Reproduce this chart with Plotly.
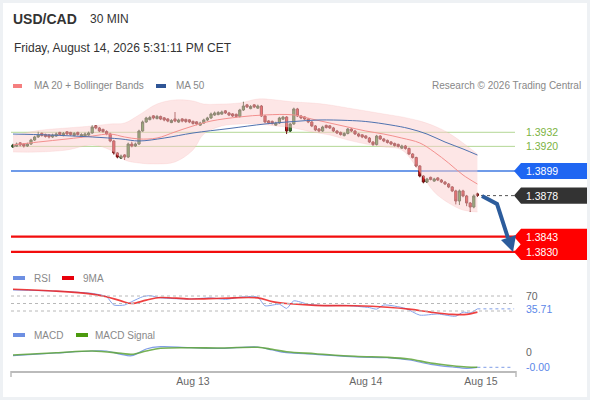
import plotly.graph_objects as go

# 30 min candles, index 0 = first candle on screen
candle_idx = list(range(130))
opens = [
    1.39194, 1.39202, 1.39230, 1.39221, 1.39203, 1.39220, 1.39254, 1.39280, 1.39311, 1.39302,
    1.39298, 1.39280, 1.39288, 1.39319, 1.39292, 1.39324, 1.39319, 1.39292, 1.39319, 1.39283,
    1.39288, 1.39296, 1.39314, 1.39375, 1.39357, 1.39345, 1.39327, 1.39306, 1.39246, 1.39144,
    1.39100, 1.39127, 1.39109, 1.39220, 1.39203, 1.39220, 1.39331, 1.39408, 1.39428, 1.39460,
    1.39437, 1.39455, 1.39443, 1.39434, 1.39403, 1.39434, 1.39407, 1.39434, 1.39430, 1.39426,
    1.39413, 1.39409, 1.39381, 1.39399, 1.39425, 1.39442, 1.39467, 1.39471, 1.39475, 1.39503,
    1.39485, 1.39477, 1.39473, 1.39455, 1.39510, 1.39554, 1.39522, 1.39554, 1.39526, 1.39544,
    1.39459, 1.39417, 1.39413, 1.39381, 1.39399, 1.39432, 1.39450, 1.39331, 1.39391, 1.39519,
    1.39459, 1.39451, 1.39433, 1.39408, 1.39374, 1.39349, 1.39331, 1.39379, 1.39375, 1.39357,
    1.39331, 1.39319, 1.39292, 1.39310, 1.39348, 1.39331, 1.39306, 1.39298, 1.39289, 1.39271,
    1.39237, 1.39216, 1.39288, 1.39263, 1.39251, 1.39238, 1.39225, 1.39217, 1.39185, 1.39203,
    1.39182, 1.39135, 1.39105, 1.39033, 1.38947, 1.38896, 1.38936, 1.38904, 1.38931, 1.38913,
    1.38896, 1.38879, 1.38854, 1.38820, 1.38734, 1.38820, 1.38777, 1.38717, 1.38683, 1.38795,
]
highs = [
    1.39222, 1.39232, 1.39236, 1.39228, 1.39231, 1.39265, 1.39290, 1.39325, 1.39318, 1.39308,
    1.39304, 1.39308, 1.39318, 1.39324, 1.39322, 1.39330, 1.39324, 1.39321, 1.39325, 1.39312,
    1.39318, 1.39326, 1.39378, 1.39382, 1.39366, 1.39350, 1.39337, 1.39316, 1.39255, 1.39152,
    1.39130, 1.39134, 1.39232, 1.39240, 1.39232, 1.39342, 1.39420, 1.39452, 1.39460, 1.39466,
    1.39468, 1.39462, 1.39450, 1.39440, 1.39432, 1.39493, 1.39436, 1.39440, 1.39436, 1.39432,
    1.39420, 1.39414, 1.39410, 1.39436, 1.39452, 1.39488, 1.39497, 1.39500, 1.39505, 1.39510,
    1.39494, 1.39484, 1.39480, 1.39520, 1.39580, 1.39562, 1.39552, 1.39560, 1.39556, 1.39553,
    1.39467, 1.39424, 1.39420, 1.39410, 1.39452, 1.39460, 1.39458, 1.39400, 1.39530, 1.39528,
    1.39468, 1.39458, 1.39442, 1.39416, 1.39382, 1.39356, 1.39376, 1.39385, 1.39382, 1.39366,
    1.39340, 1.39326, 1.39320, 1.39358, 1.39356, 1.39340, 1.39315, 1.39304, 1.39295, 1.39280,
    1.39246, 1.39298, 1.39296, 1.39272, 1.39258, 1.39245, 1.39232, 1.39223, 1.39214, 1.39212,
    1.39190, 1.39142, 1.39112, 1.39040, 1.38955, 1.38932, 1.38942, 1.38932, 1.38938, 1.38922,
    1.38905, 1.38888, 1.38862, 1.38830, 1.38832, 1.38830, 1.38786, 1.38726, 1.38790, 1.38805,
]
lows = [
    1.39186, 1.39195, 1.39200, 1.39190, 1.39195, 1.39212, 1.39246, 1.39272, 1.39284, 1.39275,
    1.39268, 1.39272, 1.39282, 1.39292, 1.39286, 1.39297, 1.39290, 1.39286, 1.39292, 1.39277,
    1.39282, 1.39290, 1.39308, 1.39346, 1.39322, 1.39316, 1.39295, 1.39235, 1.39130, 1.39098,
    1.39092, 1.39084, 1.39100, 1.39192, 1.39195, 1.39212, 1.39325, 1.39400, 1.39422, 1.39430,
    1.39430, 1.39424, 1.39414, 1.39406, 1.39398, 1.39406, 1.39400, 1.39405, 1.39400, 1.39398,
    1.39385, 1.39380, 1.39375, 1.39392, 1.39416, 1.39434, 1.39460, 1.39465, 1.39470, 1.39476,
    1.39458, 1.39450, 1.39446, 1.39446, 1.39502, 1.39527, 1.39516, 1.39526, 1.39520, 1.39450,
    1.39398, 1.39390, 1.39386, 1.39375, 1.39392, 1.39426, 1.39305, 1.39322, 1.39384, 1.39450,
    1.39432, 1.39424, 1.39398, 1.39364, 1.39330, 1.39320, 1.39324, 1.39352, 1.39348, 1.39322,
    1.39305, 1.39292, 1.39285, 1.39302, 1.39322, 1.39297, 1.39278, 1.39270, 1.39262, 1.39228,
    1.39206, 1.39208, 1.39254, 1.39236, 1.39224, 1.39211, 1.39198, 1.39190, 1.39178, 1.39172,
    1.39126, 1.39096, 1.39022, 1.38936, 1.38885, 1.38888, 1.38910, 1.38898, 1.38904, 1.38887,
    1.38870, 1.38844, 1.38810, 1.38705, 1.38700, 1.38766, 1.38690, 1.38640, 1.38672, 1.38768,
]
closes = [
    1.39212, 1.39220, 1.39212, 1.39203, 1.39220, 1.39254, 1.39280, 1.39297, 1.39293, 1.39284,
    1.39280, 1.39297, 1.39306, 1.39301, 1.39310, 1.39306, 1.39301, 1.39310, 1.39301, 1.39301,
    1.39306, 1.39314, 1.39365, 1.39357, 1.39331, 1.39327, 1.39306, 1.39246, 1.39144, 1.39109,
    1.39118, 1.39109, 1.39220, 1.39203, 1.39220, 1.39331, 1.39408, 1.39442, 1.39446, 1.39442,
    1.39455, 1.39433, 1.39425, 1.39416, 1.39421, 1.39416, 1.39425, 1.39416, 1.39412, 1.39408,
    1.39395, 1.39391, 1.39399, 1.39425, 1.39442, 1.39476, 1.39485, 1.39489, 1.39493, 1.39485,
    1.39467, 1.39459, 1.39455, 1.39510, 1.39544, 1.39536, 1.39540, 1.39536, 1.39544, 1.39459,
    1.39408, 1.39399, 1.39395, 1.39399, 1.39442, 1.39450, 1.39331, 1.39391, 1.39519, 1.39459,
    1.39442, 1.39433, 1.39408, 1.39374, 1.39340, 1.39331, 1.39365, 1.39361, 1.39357, 1.39331,
    1.39314, 1.39301, 1.39310, 1.39348, 1.39331, 1.39306, 1.39288, 1.39280, 1.39271, 1.39237,
    1.39216, 1.39288, 1.39263, 1.39246, 1.39233, 1.39220, 1.39207, 1.39199, 1.39203, 1.39182,
    1.39135, 1.39105, 1.39033, 1.38947, 1.38896, 1.38922, 1.38918, 1.38922, 1.38913, 1.38896,
    1.38879, 1.38854, 1.38820, 1.38734, 1.38820, 1.38777, 1.38717, 1.38683, 1.38777, 1.38781,
]

# Bollinger bands + moving averages (read at a few candles)
band_idx = [0, 7, 15, 22, 27, 31, 35, 40, 45, 50, 53, 58, 63, 68, 73, 78, 83, 88, 93, 98,
            103, 108, 113, 117, 121, 125, 129]
band_upper = [1.39290, 1.39335, 1.39357, 1.39374, 1.39391, 1.39399, 1.39468, 1.39561, 1.39596,
              1.39587, 1.39561, 1.39561, 1.39570, 1.39604, 1.39596, 1.39578, 1.39570, 1.39553,
              1.39527, 1.39502, 1.39476, 1.39451, 1.39416, 1.39374, 1.39314, 1.39229, 1.39135]
band_lower = [1.39152, 1.39152, 1.39169, 1.39212, 1.39169, 1.39084, 1.39058, 1.39050, 1.39067,
              1.39169, 1.39305, 1.39374, 1.39391, 1.39391, 1.39374, 1.39357, 1.39323, 1.39297,
              1.39254, 1.39220, 1.39195, 1.39169, 1.38981, 1.38811, 1.38717, 1.38657, 1.38640]
ma20_idx = [0, 7, 15, 22, 27, 31, 35, 40, 45, 50, 55, 63, 70, 78, 83, 88, 93, 98, 103, 108,
            113, 117, 121, 125, 129]
ma20 = [1.39212, 1.39237, 1.39263, 1.39288, 1.39305, 1.39280, 1.39263, 1.39271, 1.39323,
        1.39374, 1.39416, 1.39451, 1.39468, 1.39468, 1.39433, 1.39399, 1.39365, 1.39331,
        1.39305, 1.39271, 1.39229, 1.39152, 1.39058, 1.38956, 1.38879]
ma50_idx = [0, 10, 22, 30, 35, 42, 50, 60, 70, 78, 85, 93, 98, 105, 110, 115, 120, 125, 129]
ma50 = [1.39305, 1.39297, 1.39280, 1.39263, 1.39246, 1.39271, 1.39314, 1.39352, 1.39391,
        1.39412, 1.39425, 1.39421, 1.39412, 1.39382, 1.39352, 1.39305, 1.39237, 1.39178, 1.39126]

# levels
resist_levels = [1.3932, 1.3920]
pivot_level = 1.3899
last_price = 1.3878
support_levels = [1.3843, 1.3830]

# RSI panel
rsi_idx = [0, 12, 22, 26, 28, 31, 33, 36, 38, 41, 49, 55, 59, 64, 68, 70, 74, 76, 78, 82, 87,
           92, 99, 101, 103, 109, 113, 118, 123, 125, 127, 129]
rsi = [86, 83, 77, 68, 46, 46, 55, 68, 71, 65, 62, 65, 61, 68, 67, 44, 48, 37, 57, 48, 44,
       45, 39, 35, 46, 37, 19, 22, 16, 27, 25, 35.71]
rsi_ma_idx = [0, 12, 22, 26, 30, 33, 37, 41, 49, 58, 68, 72, 76, 84, 95, 104, 110, 116, 122,
              126, 129]
rsi_ma = [88, 83, 75, 68, 57, 50, 59, 66, 62, 64, 65, 55, 50, 45, 44, 40, 35, 27, 21, 21, 27]
rsi_levels = [70, 50, 30]

# MACD panel
macd_idx = [0, 12, 22, 26, 30, 33, 37, 41, 49, 58, 68, 72, 76, 84, 95, 104, 110, 116, 122,
            126, 129]
macd = [-0.00037, -0.0001, 0.0001, 0.0001, -0.00023, -0.00037, 0.0003, 0.00053, 0.00043,
        0.00037, 0.0005, 0.0002, -0.00007, -0.00023, -0.0005, -0.00057, -0.0008, -0.00123,
        -0.0015, -0.00163, -0.00153]
signal_idx = [0, 12, 22, 30, 33, 37, 41, 49, 58, 68, 72, 76, 84, 95, 104, 110, 116, 122, 126, 129]
signal = [-0.0003, -0.00008, 0.0001, -0.00013, -0.00023, 0.0001, 0.00037, 0.00043, 0.0004,
          0.00047, 0.00027, 0.00003, -0.00017, -0.00043, -0.00053, -0.0007, -0.0011, -0.00137,
          -0.0015, -0.00153]

day_ticks = [50, 98, 130]
day_labels = ["Aug 13", "Aug 14", "Aug 15"]

W, H = 590, 400
FONT = "Liberation Sans, Arial, sans-serif"


def px(x):
    return x / W


def py(y):
    return 1 - y / H


fig = go.Figure()

# price panel
fig.add_trace(go.Scatter(x=band_idx, y=band_lower, mode="lines", line=dict(width=0.5, color="rgba(245,160,160,0.35)", shape="spline"),
                         xaxis="x", yaxis="y", hoverinfo="skip"))
fig.add_trace(go.Scatter(x=band_idx, y=band_upper, mode="lines", fill="tonexty", fillcolor="rgba(252,205,205,0.5)",
                         line=dict(width=0.5, color="rgba(245,160,160,0.35)", shape="spline"),
                         xaxis="x", yaxis="y", hoverinfo="skip"))
fig.add_trace(go.Scatter(x=ma20_idx, y=ma20, mode="lines", line=dict(width=1, color="#f3908e", shape="spline"),
                         xaxis="x", yaxis="y"))
fig.add_trace(go.Scatter(x=ma50_idx, y=ma50, mode="lines", line=dict(width=1, color="#4f72b0", shape="spline"),
                         xaxis="x", yaxis="y"))
fig.add_trace(go.Candlestick(
    x=candle_idx, open=opens, high=highs, low=lows, close=closes,
    increasing=dict(line=dict(color="#24401d", width=1), fillcolor="#3b8a2a"),
    decreasing=dict(line=dict(color="#6e1212", width=1), fillcolor="#e3141b"),
    whiskerwidth=0, xaxis="x", yaxis="y"))

# RSI panel
fig.add_trace(go.Scatter(x=rsi_idx, y=rsi, mode="lines", line=dict(width=1, color="#86a3ea", shape="spline", smoothing=0.6),
                         xaxis="x2", yaxis="y2"))
fig.add_trace(go.Scatter(x=rsi_ma_idx, y=rsi_ma, mode="lines", line=dict(width=1.6, color="rgba(236,30,30,0.85)", shape="spline"),
                         xaxis="x2", yaxis="y2"))

# MACD panel
fig.add_trace(go.Scatter(x=macd_idx, y=macd, mode="lines", line=dict(width=1.2, color="#7f9de6", shape="spline"),
                         xaxis="x3", yaxis="y3"))
fig.add_trace(go.Scatter(x=signal_idx, y=signal, mode="lines", line=dict(width=1.6, color="rgba(95,165,55,0.85)", shape="spline"),
                         xaxis="x3", yaxis="y3"))

shapes = []
# white card on grey page
shapes.append(dict(type="rect", xref="paper", yref="paper", x0=px(3), x1=px(587), y0=py(397), y1=py(3),
                   fillcolor="white", line=dict(width=0), layer="below"))

x_left, x_right = px(11), px(515)
for lvl in resist_levels:
    shapes.append(dict(type="line", xref="paper", yref="y", x0=x_left, x1=x_right, y0=lvl, y1=lvl,
                       line=dict(color="#b3d795", width=1), layer="below"))
shapes.append(dict(type="line", xref="paper", yref="y", x0=x_left, x1=x_right, y0=pivot_level, y1=pivot_level,
                   line=dict(color="#6f9be9", width=2), layer="below"))
for lvl in support_levels:
    shapes.append(dict(type="line", xref="paper", yref="y", x0=x_left, x1=x_right, y0=lvl, y1=lvl,
                       line=dict(color="#f20d0d", width=2.2), layer="below"))
shapes.append(dict(type="line", xref="x", yref="y", x0=candle_idx[-1] + 1, x1=139.2, y0=last_price, y1=last_price,
                   line=dict(color="#555", width=1, dash="dot")))

# label boxes with a left pointing tip
half = 8 * 0.0000853


def tag(level, color):
    return dict(type="path", xref="paper", yref="y", fillcolor=color, line=dict(width=0),
                path=f"M {px(514)},{level} L {px(521)},{level + half} L {px(587)},{level + half} "
                     f"L {px(587)},{level - half} L {px(521)},{level - half} Z")


shapes.append(tag(pivot_level, "#1f66f2"))
shapes.append(tag(last_price, "#333333"))
for lvl in support_levels:
    shapes.append(tag(lvl, "#ff0000"))

# forecast arrow
shapes.append(dict(type="path", xref="paper", yref="paper",
                   path=f"M {px(482)},{py(196)} L {px(497)},{py(204)} L {px(508)},{py(238)}",
                   line=dict(color="#2c5c9c", width=4)))
shapes.append(dict(type="path", xref="paper", yref="paper", fillcolor="#2c5c9c", line=dict(width=0),
                   path=f"M {px(501)},{py(240)} L {px(516)},{py(235)} L {px(513)},{py(252)} Z"))

# RSI guides
for lvl in rsi_levels:
    shapes.append(dict(type="line", xref="paper", yref="y2", x0=x_left, x1=x_right, y0=lvl, y1=lvl,
                       line=dict(color="#b8b8b8", width=1, dash="dot")))
shapes.append(dict(type="line", xref="x2", yref="y2", x0=rsi_idx[-1], x1=139.2, y0=rsi[-1], y1=rsi[-1],
                   line=dict(color="#7f9de6", width=1, dash="dot")))
shapes.append(dict(type="line", xref="x3", yref="y3", x0=macd_idx[-1], x1=138.5, y0=macd[-1], y1=macd[-1],
                   line=dict(color="#7f9de6", width=1, dash="dot")))

# time axis end ticks
for xe in (11, 516):
    shapes.append(dict(type="line", xref="paper", yref="paper", x0=px(xe), x1=px(xe), y0=py(371), y1=py(377),
                       line=dict(color="#bbbbbb", width=1.5)))

# legend swatches
for x0, x1, y0, col in [(13, 22, 86, "#f57f7f"), (156, 166, 86, "#2f5596"),
                        (13, 25, 278, "#6d8fe2"), (62, 74, 278, "#e8000b"),
                        (13, 25, 335, "#6d8fe2"), (76, 88, 335, "#4c9a0e")]:
    shapes.append(dict(type="rect", xref="paper", yref="paper", x0=px(x0), x1=px(x1), y0=py(y0 + 2), y1=py(y0 - 2),
                       fillcolor=col, line=dict(width=0)))

ann = []


def text(x, y, s, size=10, color="#888", anchor="left", yref="paper", bold=False):
    ann.append(dict(x=x, y=y, xref="paper", yref=yref, text=f"<b>{s}</b>" if bold else s, showarrow=False,
                    xanchor=anchor, yanchor="middle", font=dict(size=size, color=color, family=FONT)))


text(px(11), py(19), "USD/CAD", size=14, color="#333", bold=True)
text(px(88), py(19), "30 MIN", size=12, color="#333")
text(px(12), py(48), "Friday, August 14, 2026 5:31:11 PM CET", size=12, color="#333")
text(px(32), py(86), "MA 20 + Bollinger Bands")
text(px(174), py(86), "MA 50")
text(px(583), py(86), "Research © 2026 Trading Central", anchor="right")
text(px(32), py(278), "RSI")
text(px(81), py(278), "9MA")
text(px(32), py(335), "MACD")
text(px(93), py(335), "MACD Signal")

for lvl in resist_levels:
    text(px(524), lvl, f"{lvl:.4f}", size=10.5, color="#7cb342", yref="y")
text(px(524), pivot_level, f"{pivot_level:.4f}", size=10.5, color="white", yref="y")
text(px(524), last_price, f"{last_price:.4f}", size=10.5, color="white", yref="y")
for lvl in support_levels:
    text(px(524), lvl, f"{lvl:.4f}", size=10.5, color="white", yref="y")

text(px(524), rsi_levels[0], f"{rsi_levels[0]}", size=10.5, color="#666", yref="y2")
text(px(524), rsi[-1], f"{rsi[-1]:.2f}", size=10.5, color="#5b87e8", yref="y2")
text(px(524), 0, "0", size=10.5, color="#666", yref="y3")
text(px(524), macd[-1], f"{macd[-1]:.2f}", size=10.5, color="#5b87e8", yref="y3")

x_dom = [px(11), px(516)]
x_rng = [-0.556, 139.72]
hidden = dict(showgrid=False, zeroline=False, showticklabels=False, showline=False, ticks="")

fig.update_layout(
    width=W, height=H, margin=dict(l=0, r=0, t=0, b=0),
    paper_bgcolor="#eef1f4", plot_bgcolor="rgba(0,0,0,0)",
    showlegend=False, shapes=shapes, annotations=ann,
    font=dict(family=FONT), boxgap=0.12,
    xaxis=dict(domain=x_dom, range=x_rng, anchor="y", rangeslider=dict(visible=False), **hidden),
    xaxis2=dict(domain=x_dom, range=x_rng, anchor="y2", matches="x", **hidden),
    xaxis3=dict(domain=x_dom, range=x_rng, anchor="y3", matches="x", showgrid=False, zeroline=False,
                showline=True, linecolor="#bbbbbb", linewidth=1.5, ticks="",
                tickvals=day_ticks, ticktext=day_labels, tickfont=dict(size=10.5, color="#666", family=FONT)),
    yaxis=dict(domain=[py(262), py(95)], range=[1.38214, 1.39638], anchor="x", **hidden),
    yaxis2=dict(domain=[py(322.25), py(284.75)], range=[0, 100], anchor="x2", **hidden),
    yaxis3=dict(domain=[py(371), py(340)], range=[-0.0019, 0.0012], anchor="x3", **hidden),
)

# the page body has an 8px default margin; drop it so the figure sits at the window corner
fig.write_html("out.html", config={"displayModeBar": False},
               post_script="document.body.style.margin='0';")
